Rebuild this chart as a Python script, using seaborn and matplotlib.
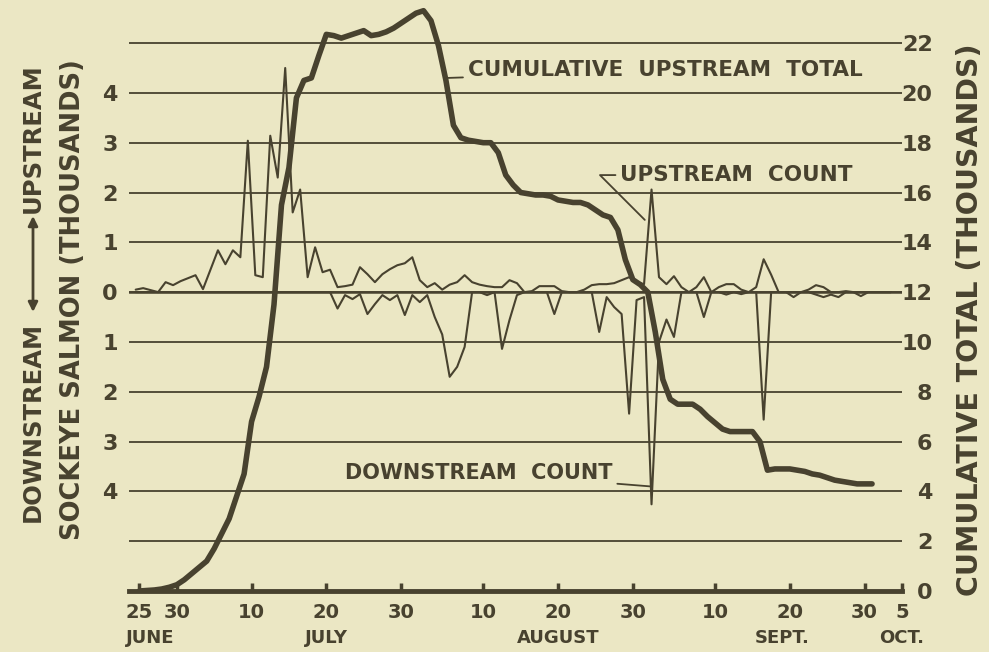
import pandas as pd
import seaborn as sns
import matplotlib.pyplot as plt

paper = '#ebe7c4'
ink = '#48422f'

# daily counts, thousands of fish (June 24 .. Oct 4)
count_start = '1950-06-24'
upstream_k = [
    0.05, 0.08, 0.04, 0.00, 0.20, 0.14, 0.22, 0.28, 0.34, 0.06,
    0.45, 0.84, 0.56, 0.84, 0.70, 3.04, 0.34, 0.30, 3.14, 2.30,
    4.50, 1.60, 2.06, 0.30, 0.90, 0.40, 0.45, 0.10, 0.12, 0.15,
    0.50, 0.36, 0.20, 0.36, 0.46, 0.54, 0.58, 0.70, 0.24, 0.10,
    0.18, 0.05, 0.15, 0.20, 0.34, 0.20, 0.15, 0.12, 0.10, 0.10,
    0.24, 0.18, 0.00, 0.02, 0.12, 0.12, 0.12, 0.02, 0.00, 0.00,
    0.05, 0.14, 0.16, 0.16, 0.18, 0.24, 0.30, 0.20, 0.16, 2.06,
    0.30, 0.16, 0.32, 0.10, 0.00, 0.10, 0.30, 0.00, 0.10, 0.16,
    0.16, 0.05, 0.00, 0.10, 0.66, 0.35, 0.00, 0.00, 0.00, 0.00,
    0.05, 0.14, 0.10, 0.00, 0.00, 0.02, 0.00, 0.00, 0.00, 0.00,
    0.00, 0.00,
]
downstream_k = [
    0, 0, 0, 0, 0, 0, 0, 0, 0, 0,
    0, 0, 0, 0, 0, 0, 0, 0, 0, 0,
    0, 0, 0, 0, 0, 0, 0, 0.33, 0.06, 0.14,
    0.04, 0.44, 0.24, 0.06, 0.16, 0.06, 0.46, 0.06, 0.20, 0.06,
    0.50, 0.85, 1.70, 1.50, 1.10, 0.00, 0.00, 0.06, 0.00, 1.14,
    0.56, 0.06, 0, 0, 0, 0, 0.44, 0, 0, 0,
    0, 0, 0.80, 0.10, 0.30, 0.44, 2.44, 0.16, 0.10, 4.26,
    1.00, 0.55, 0.90, 0, 0, 0, 0.50, 0, 0, 0.05,
    0, 0.04, 0, 0, 2.56, 0, 0, 0, 0.10, 0,
    0, 0.05, 0.10, 0.05, 0.10, 0, 0, 0.08, 0, 0,
    0, 0,
]

# cumulative total, thousands (June 25 .. Oct 1)
cumulative_start = '1950-06-25'
cumulative_k = [
    0.00, 0.02, 0.04, 0.08, 0.15, 0.25, 0.45, 0.70, 0.95, 1.20,
    1.70, 2.30, 2.90, 3.80, 4.70, 6.80, 7.80, 9.00, 11.50, 15.50,
    17.00, 19.80, 20.50, 20.60, 21.50, 22.35, 22.30, 22.20, 22.30, 22.40,
    22.50, 22.30, 22.35, 22.45, 22.60, 22.80, 23.00, 23.20, 23.30, 22.90,
    21.90, 20.50, 18.70, 18.20, 18.10, 18.05, 18.00, 18.00, 17.60, 16.70,
    16.30, 16.00, 15.95, 15.90, 15.90, 15.85, 15.70, 15.65, 15.60, 15.60,
    15.50, 15.30, 15.10, 15.00, 14.50, 13.30, 12.50, 12.30, 12.00, 10.40,
    8.50, 7.70, 7.50, 7.50, 7.50, 7.30, 7.00, 6.75, 6.50, 6.40,
    6.40, 6.40, 6.40, 6.00, 4.85, 4.90, 4.90, 4.90, 4.85, 4.80,
    4.70, 4.65, 4.55, 4.45, 4.40, 4.35, 4.30, 4.30, 4.30,
]

tick_dates = ['06-25', '06-30', '07-10', '07-20', '07-30', '08-10',
              '08-20', '08-30', '09-10', '09-20', '09-30', '10-05']
tick_labels = ['25', '30', '10', '20', '30', '10', '20', '30', '10', '20', '30', '5']
month_dates = ['06-26 12:00', '07-20', '08-20', '09-19', '10-05']
month_labels = ['JUNE', 'JULY', 'AUGUST', 'SEPT.', 'OCT.']
count_ticks = [-5, -4, -3, -2, -1, 0, 1, 2, 3, 4, 5]
count_tick_labels = ['', '4', '3', '2', '1', '0', '1', '2', '3', '4', '']
total_ticks = [0, 2, 4, 6, 8, 10, 12, 14, 16, 18, 20, 22]


def day(md):
    return pd.Timestamp('1950-' + md)


def after_start(days):
    return pd.Timestamp(cumulative_start) + pd.Timedelta(days=days)


counts = pd.DataFrame({
    'date': pd.date_range(count_start, periods=len(upstream_k)) + pd.Timedelta(hours=12),
    'upstream': upstream_k,
    'downstream': [-v for v in downstream_k],
})
totals = pd.DataFrame({
    'date': pd.date_range(cumulative_start, periods=len(cumulative_k)),
    'total': cumulative_k,
})

sns.set_theme(style='white', rc={'axes.facecolor': paper, 'figure.facecolor': paper})
plt.rcParams['font.family'] = ['DejaVu Sans']
plt.rcParams['font.weight'] = 'bold'
plt.rcParams['text.color'] = ink

fig = plt.figure(figsize=(9.89, 6.52), dpi=100)
ax = fig.add_axes([0.1304, 0.0936, 0.7816, 0.9064])

sns.lineplot(data=counts, x='date', y='upstream', ax=ax, color=ink, linewidth=1.5)
sns.lineplot(data=counts, x='date', y='downstream', ax=ax, color=ink, linewidth=1.5)
ax.set_ylim(-6, 5.865)
ax.set_xlim(after_start(-1.4), day('10-05'))
ax.set_yticks(count_ticks, count_tick_labels)
ax.grid(axis='y', color=ink, linewidth=1.3)
ax.axhline(0, color=ink, linewidth=1.8, zorder=1)
ax.set_xticks([day(d) for d in tick_dates], tick_labels)
ax.tick_params(axis='y', length=0, pad=8, labelsize=16, labelcolor=ink)
ax.tick_params(axis='x', bottom=True, direction='in', length=6, width=2.5, color=ink, pad=9,
               labelsize=14, labelcolor=ink)
for side in ['left', 'right', 'top']:
    ax.spines[side].set_visible(False)
ax.spines['bottom'].set_linewidth(3.5)
ax.spines['bottom'].set_color(ink)
ax.set_xlabel('')
ax.set_ylabel('')

ax2 = ax.twinx()
sns.lineplot(data=totals, x='date', y='total', ax=ax2, color=ink, linewidth=4,
             solid_joinstyle='round', solid_capstyle='round')
ax2.set_ylim(0, 23.73)
ax2.set_yticks(total_ticks, [str(t) for t in total_ticks], ha='right')
ax2.tick_params(axis='y', length=0, pad=22, labelsize=16, labelcolor=ink)
for side in ax2.spines:
    ax2.spines[side].set_visible(False)
ax2.set_ylabel('')

for md, name in zip(month_dates, month_labels):
    ax.text(day(md), -0.08, name, transform=ax.get_xaxis_transform(), ha='center',
            va='center', fontsize=13, color=ink)

# annotations with leaders
ax2.annotate('CUMULATIVE  UPSTREAM  TOTAL', xy=(after_start(41.2), 20.6),
             xytext=(after_start(43.9), 20.9), ha='left', va='center', fontsize=15.5, color=ink,
             arrowprops=dict(arrowstyle='-', color=ink, lw=1.3, shrinkA=1, shrinkB=0))
ax2.annotate('UPSTREAM  COUNT', xy=(after_start(67.6), 14.9),
             xytext=(after_start(64.3), 16.7), ha='left', va='center', fontsize=15.5, color=ink,
             arrowprops=dict(arrowstyle='-', color=ink, lw=1.3, shrinkA=1, shrinkB=0,
                             connectionstyle='angle,angleA=0,angleB=135,rad=0'))
ax2.annotate('DOWNSTREAM  COUNT', xy=(after_start(68.3), 4.2),
             xytext=(after_start(63.3), 4.75), ha='right', va='center', fontsize=15, color=ink,
             arrowprops=dict(arrowstyle='-', color=ink, lw=1.3, shrinkA=1, shrinkB=0))

# axis titles
fig.text(73 / 989, 1 - 300 / 652, 'SOCKEYE SALMON (THOUSANDS)', rotation=90,
         ha='center', va='center', fontsize=18.5, color=ink)
fig.text(33 / 989, 1 - 422 / 652, 'DOWNSTREAM', rotation=90,
         ha='center', va='center', fontsize=17.5, color=ink)
fig.text(33 / 989, 1 - 138 / 652, 'UPSTREAM', rotation=90,
         ha='center', va='center', fontsize=17.5, color=ink)
fig.add_artist(plt.Annotation('', xy=(33 / 989, 1 - 216 / 652), xytext=(33 / 989, 1 - 312 / 652),
                              xycoords='figure fraction', textcoords='figure fraction',
                              arrowprops=dict(arrowstyle='<|-|>', color=ink, lw=2,
                                              mutation_scale=14, shrinkA=0, shrinkB=0)))
fig.text(970 / 989, 1 - 320 / 652, 'CUMULATIVE TOTAL (THOUSANDS)', rotation=90,
         ha='center', va='center', fontsize=20.5, color=ink)

fig.savefig('out.png', dpi=100, facecolor=paper)
